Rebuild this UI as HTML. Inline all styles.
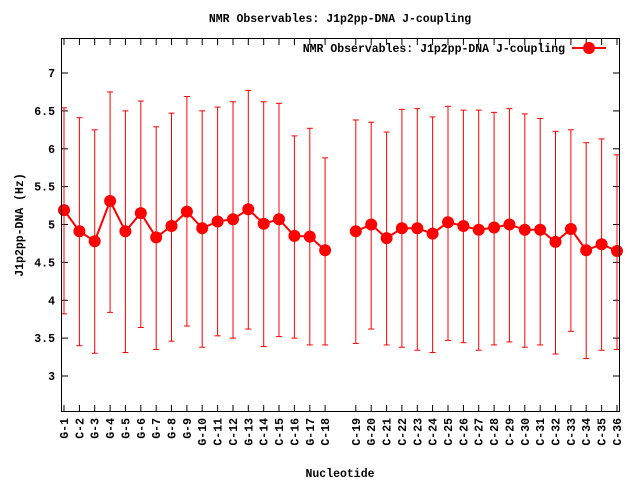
<!DOCTYPE html>
<html><head><meta charset="utf-8"><style>
html,body{margin:0;padding:0;background:#fff;}
svg text{font-family:"Liberation Mono",monospace;font-weight:bold;font-size:11.5px;fill:#000;}
</style></head><body>
<svg id="s" width="640" height="480" xmlns="http://www.w3.org/2000/svg">
<rect width="640" height="480" fill="#fff"/>
<text x="340" y="22" text-anchor="middle">NMR Observables: J1p2pp-DNA J-coupling</text>
<text x="340" y="477" text-anchor="middle">Nucleotide</text>
<text transform="translate(23,225) rotate(-90)" text-anchor="middle">J1p2pp-DNA (Hz)</text>
<g id="g"></g>
<rect x="61.5" y="38.5" width="558" height="373" fill="none" stroke="#000" stroke-width="1"/>
<text x="565" y="52" text-anchor="end">NMR Observables: J1p2pp-DNA J-coupling</text>
<line x1="572" y1="48" x2="606" y2="48" stroke="#f00" stroke-width="2"/>
<circle cx="589" cy="48" r="6" fill="#f00"/>
</svg>
<script>
var c=[5.19,4.91,4.78,5.31,4.91,5.15,4.83,4.98,5.17,4.95,5.04,5.07,5.20,5.01,5.07,4.85,4.84,4.66,4.91,5.00,4.82,4.95,4.95,4.88,5.03,4.98,4.93,4.96,5.00,4.93,4.93,4.77,4.94,4.66,4.74,4.65];
var t=[6.54,6.41,6.25,6.75,6.50,6.63,6.29,6.47,6.69,6.50,6.55,6.62,6.77,6.62,6.60,6.17,6.27,5.88,6.38,6.35,6.22,6.52,6.53,6.42,6.56,6.51,6.51,6.48,6.53,6.46,6.40,6.23,6.25,6.08,6.13,5.92];
var b=[3.82,3.40,3.30,3.84,3.31,3.64,3.35,3.46,3.66,3.38,3.53,3.50,3.62,3.39,3.52,3.50,3.41,3.41,3.43,3.62,3.41,3.38,3.34,3.31,3.47,3.44,3.34,3.41,3.45,3.38,3.41,3.29,3.59,3.23,3.34,3.35];
var nm=["G","C","G","G","G","G","G","G","G","G","C","C","G","C","C","C","G","C","C","G","C","C","C","C","C","C","C","C","C","C","C","C","C","C","C","C"];
function Y(v){return 73+(7-v)*75.75;}
function X(i){return 64+15.36*(i<=18?i-1:i);}
var h='';
for(var v=3;v<=7.01;v+=0.5){var y=Y(v).toFixed(1);
h+='<line x1="61.5" x2="68" y1="'+y+'" y2="'+y+'" stroke="#000"/><line x1="613" x2="619.5" y1="'+y+'" y2="'+y+'" stroke="#000"/>';
h+='<text x="55" y="'+(+y+4)+'" text-anchor="end">'+(v%1?v.toFixed(1):v)+'</text>';}
var p1='',p2='';
for(var i=1;i<=36;i++){var x=X(i).toFixed(1);
h+='<line x1="'+x+'" x2="'+x+'" y1="411.5" y2="405" stroke="#000"/><line x1="'+x+'" x2="'+x+'" y1="38.5" y2="45" stroke="#000"/>';
h+='<text transform="translate('+(+x+4)+',418) rotate(-90)" text-anchor="end">'+nm[i-1]+'-'+i+'</text>';
var yt=Y(t[i-1]),yb=Y(b[i-1]);
h+='<line x1="'+x+'" x2="'+x+'" y1="'+yt+'" y2="'+yb+'" stroke="#f00"/>';
h+='<line x1="'+(x-3)+'" x2="'+(+x+3)+'" y1="'+yt+'" y2="'+yt+'" stroke="#f00"/><line x1="'+(x-3)+'" x2="'+(+x+3)+'" y1="'+yb+'" y2="'+yb+'" stroke="#f00"/>';
var pt=x+','+Y(c[i-1]).toFixed(1)+' ';if(i<=18)p1+=pt;else p2+=pt;}
h+='<polyline points="'+p1+'" fill="none" stroke="#f00" stroke-width="2"/><polyline points="'+p2+'" fill="none" stroke="#f00" stroke-width="2"/>';
for(var i=1;i<=36;i++)h+='<circle cx="'+X(i).toFixed(1)+'" cy="'+Y(c[i-1]).toFixed(1)+'" r="6" fill="#f00"/>';
document.getElementById('g').innerHTML=h;
</script>
</body></html>
